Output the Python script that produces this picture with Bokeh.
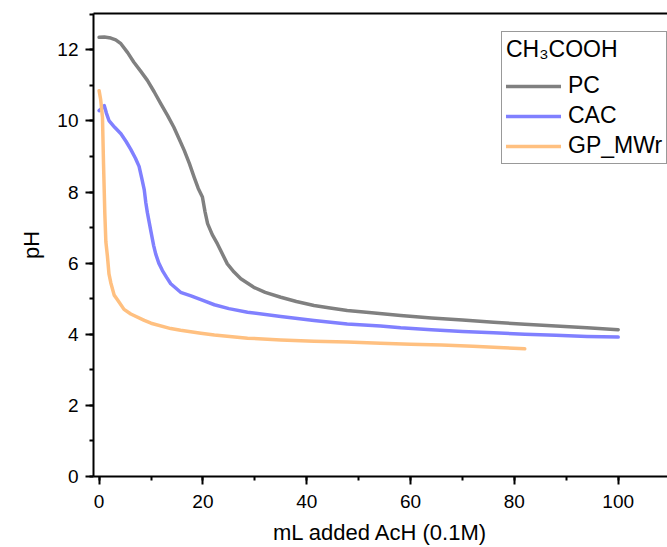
from bokeh.plotting import figure
from bokeh.models import Range1d, LinearAxis, SingleIntervalTicker, Legend, LegendItem
from bokeh.embed import file_html
from bokeh.resources import INLINE

# ---- data ----
pc_x = [0, 1.0, 2.25, 3.2, 4.2, 5.5, 6.7, 8.0, 9.3, 10.6, 11.9, 13.2, 14.4, 15.4, 16.4,
        17.4, 18.3, 19.1, 19.9, 20.4, 20.9, 21.8, 22.8, 23.4, 24.7, 26.0, 27.3, 29.8,
        32.0, 35.0, 38.0, 41.4, 44.5, 47.8, 52.0, 58.1, 64.0, 70.0, 76.0, 82.0, 88.0,
        94.0, 100.0]
pc_y = [12.35, 12.36, 12.33, 12.28, 12.17, 11.92, 11.65, 11.40, 11.14, 10.82, 10.48,
        10.15, 9.82, 9.50, 9.17, 8.80, 8.42, 8.10, 7.86, 7.45, 7.11, 6.80, 6.54, 6.36,
        5.98, 5.75, 5.56, 5.32, 5.18, 5.04, 4.92, 4.81, 4.74, 4.67, 4.61, 4.53, 4.46,
        4.40, 4.34, 4.28, 4.23, 4.18, 4.13]

cac_x = [0, 0.5, 1.0, 1.4, 1.9, 3.0, 4.2, 5.2, 6.1, 7.0, 7.7, 8.2, 8.7, 9.0, 9.3, 10.0,
         10.5, 10.9, 11.5, 12.2, 13.0, 13.8, 15.7, 17.7, 20.0, 22.2, 25.0, 28.6, 35.0,
         41.4, 47.8, 54.2, 58.1, 64.0, 70.0, 76.0, 82.0, 88.0, 94.0, 100.0]
cac_y = [10.29, 10.35, 10.43, 10.22, 10.01, 9.82, 9.64, 9.42, 9.20, 8.95, 8.72, 8.40,
         8.06, 7.70, 7.42, 6.88, 6.50, 6.26, 6.00, 5.79, 5.60, 5.42, 5.18, 5.08, 4.95,
         4.83, 4.72, 4.62, 4.50, 4.39, 4.29, 4.23, 4.18, 4.13, 4.08, 4.04, 4.00, 3.97,
         3.94, 3.92]

gp_x = [0, 0.3, 0.65, 0.85, 1.1, 1.3, 1.6, 1.9, 2.25, 2.9, 3.5, 4.8, 6.1, 8.7, 10.0,
        13.8, 15.7, 19.6, 22.2, 28.6, 35.0, 41.4, 47.8, 54.2, 60.0, 66.0, 72.0, 78.0, 82.0]
gp_y = [10.85, 10.6, 10.1, 8.8, 7.4, 6.6, 6.2, 5.7, 5.45, 5.10, 4.98, 4.70, 4.57, 4.39,
        4.31, 4.16, 4.11, 4.03, 3.98, 3.89, 3.84, 3.80, 3.78, 3.75, 3.72, 3.70, 3.66,
        3.62, 3.59]

series_names = ["PC", "CAC", "GP_MWr"]
series_colors = ["#808080", "#8080FF", "#FFC080"]
legend_title = "CH\u2083COOH"
x_label = "mL added AcH (0.1M)"
y_label = "pH"

FONT = "Liberation Sans"

p = figure(width=667, height=547, output_backend="svg", toolbar_location=None,
           x_range=Range1d(-1.08, 109.5), y_range=Range1d(0, 13.02),
           min_border_left=93, min_border_right=0, min_border_top=13,
           min_border_bottom=71, x_axis_label=x_label, y_axis_label=y_label)
p.grid.visible = False
p.outline_line_color = None
p.background_fill_color = "white"
p.border_fill_color = "white"

p.xaxis.ticker = SingleIntervalTicker(interval=20, num_minor_ticks=2)
p.yaxis.ticker = SingleIntervalTicker(interval=2, num_minor_ticks=2)

for ax in (p.xaxis[0], p.yaxis[0]):
    ax.axis_line_width = 2
    ax.axis_line_color = "black"
    ax.major_tick_line_width = 2
    ax.minor_tick_line_width = 2
    ax.major_tick_line_color = "black"
    ax.minor_tick_line_color = "black"
    ax.major_tick_in = 0
    ax.major_tick_out = 8
    ax.minor_tick_in = 0
    ax.minor_tick_out = 4
    ax.major_label_text_font = FONT
    ax.major_label_text_font_size = "19px"
    ax.major_label_text_color = "black"
    ax.axis_label_text_font = FONT
    ax.axis_label_text_font_size = "22px"
    ax.axis_label_text_font_style = "normal"
    ax.axis_label_text_color = "black"

p.xaxis.major_label_standoff = 10
p.xaxis.axis_label_standoff = 9
p.yaxis.major_label_standoff = 7
p.yaxis.axis_label_standoff = 10

top = LinearAxis(major_tick_line_color=None, minor_tick_line_color=None,
                 major_label_text_font_size="0px", major_label_text_color=None,
                 major_tick_out=0, minor_tick_out=0, major_label_standoff=0,
                 axis_line_width=2, axis_line_color="black")
p.add_layout(top, "above")

renderers = []
for xs, ys, c in zip([pc_x, cac_x, gp_x], [pc_y, cac_y, gp_y], series_colors):
    r = p.line(xs, ys, line_color=c, line_width=3.5, line_join="round", line_cap="round")
    renderers.append(r)

legend = Legend(items=[LegendItem(label=n, renderers=[r]) for n, r in zip(series_names, renderers)],
                title=legend_title, location=(408, 312))
legend.title_text_font = FONT
legend.title_text_font_size = "23px"
legend.title_text_font_style = "normal"
legend.title_text_color = "black"
legend.title_standoff = 9
legend.label_text_font = FONT
legend.label_text_font_size = "23px"
legend.label_text_color = "black"
legend.glyph_width = 55
legend.glyph_height = 26
legend.label_height = 26
legend.label_standoff = 7
legend.spacing = 3
legend.padding = 4
legend.margin = 0
legend.border_line_color = "#333333"
legend.border_line_width = 1
legend.background_fill_color = "white"
legend.background_fill_alpha = 1.0
p.add_layout(legend, "center")

open("out.html", "w").write(file_html(p, INLINE))
